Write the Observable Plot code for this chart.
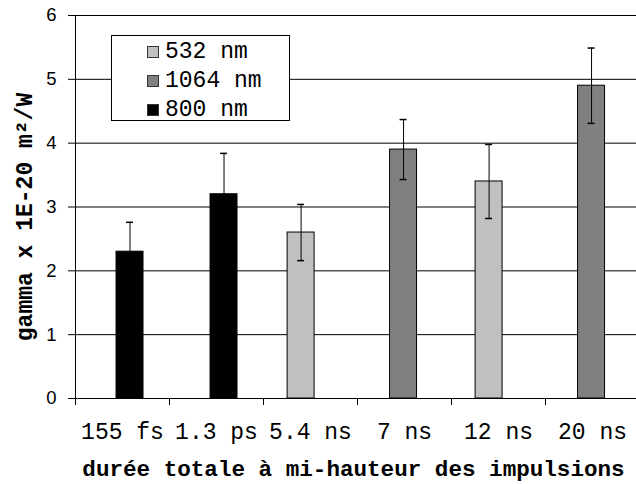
<!DOCTYPE html>
<html>
<head>
<meta charset="utf-8">
<script src="https://cdn.jsdelivr.net/npm/d3@7"></script>
<script src="https://cdn.jsdelivr.net/npm/@observablehq/plot@0.6"></script>
<style>
  html, body { margin: 0; padding: 0; background: #fff; }
  #wrap { position: relative; width: 636px; height: 484px; overflow: hidden; }
  #legend {
    position: absolute; left: 111px; top: 35px; width: 179px; height: 86px;
    box-sizing: border-box; border: 1px solid #000; background: #fff;
    padding-top: 2px;
    font-family: "Liberation Mono", "Courier New", monospace; font-size: 23px; color: #000;
  }
  #legend .row { height: 28.7px; display: flex; align-items: center; }
  #legend .sw { width: 10px; height: 10px; border: 1px solid #333; margin-left: 35px; margin-right: 6px; }
</style>
</head>
<body>
<div id="wrap"></div>
<script>
// ---- data ----
const categories = ["155 fs", "1.3 ps", "5.4 ns", "7 ns", "12 ns", "20 ns"];
const barSeries = ["800 nm", "800 nm", "532 nm", "1064 nm", "532 nm", "1064 nm"];
const values = [2.3, 3.2, 2.6, 3.9, 3.4, 4.9];
const errors = [0.46, 0.64, 0.44, 0.47, 0.58, 0.59];
const seriesNames = ["532 nm", "1064 nm", "800 nm"];
const seriesColors = ["#c0c0c0", "#808080", "#000000"];
const yTicks = [0, 1, 2, 3, 4, 5, 6];
const yTitle = "gamma x 1E-20 m²/W";
const xTitle = "durée totale à mi-hauteur des impulsions";

// ---- layout constants (category units) ----
const slotStep = 0.09, slotShift = -0.01, barW = 0.287, capHalf = 0.037;
const mono = "Liberation Mono, Courier New, monospace";

const rows = categories.map((c, i) => {
  const s = seriesNames.indexOf(barSeries[i]);
  const cx = i + 0.5 + (s - 1) * slotStep + slotShift;
  return {cat: c, series: barSeries[i], value: values[i], err: errors[i], cx};
});

const chart = Plot.plot({
  width: 636,
  height: 484,
  marginLeft: 75,
  marginRight: -3,
  marginTop: 15,
  marginBottom: 86,
  x: {domain: [0, categories.length], axis: null},
  y: {domain: [0, 6], axis: null},
  color: {domain: seriesNames, range: seriesColors},
  marks: [
    Plot.ruleY(yTicks, {stroke: "#000", strokeWidth: 1}),
    Plot.rect(rows, {
      x1: d => d.cx - barW / 2, x2: d => d.cx + barW / 2,
      y1: 0, y2: "value", fill: "series", stroke: "#000", strokeWidth: 1
    }),
    Plot.ruleX(rows, {x: "cx", y1: d => d.value - d.err, y2: d => d.value + d.err, stroke: "#000", strokeWidth: 1}),
    Plot.ruleY(rows, {y: d => d.value + d.err, x1: d => d.cx - capHalf, x2: d => d.cx + capHalf, stroke: "#000", strokeWidth: 1.5}),
    Plot.ruleY(rows, {y: d => d.value - d.err, x1: d => d.cx - capHalf, x2: d => d.cx + capHalf, stroke: "#000", strokeWidth: 1.5}),
    Plot.ruleX([0], {stroke: "#000", strokeWidth: 1}),
    Plot.ruleY([0], {stroke: "#000", strokeWidth: 1}),
    Plot.axisY({ticks: yTicks, tickSize: 7, tickPadding: 12, label: null, tickFormat: d => String(d),
      fontFamily: "Liberation Sans, Arial, sans-serif", fontSize: 18.5, stroke: "#000"}),
    Plot.axisX({ticks: d3.range(categories.length + 1), tickSize: 7, tickFormat: () => "", label: null, stroke: "#000"}),
    Plot.axisX({ticks: categories.map((c, i) => i + 0.5), tickSize: 0, tickPadding: 24, label: null,
      tickFormat: d => categories[Math.floor(d)], fontFamily: mono, fontSize: 23}),
    Plot.text([yTitle], {frameAnchor: "left", textAnchor: "middle", rotate: -90, dx: -51, dy: 10,
      fontFamily: mono, fontWeight: "bold", fontSize: 23, fill: "#000"}),
    Plot.text([xTitle], {frameAnchor: "bottom", dx: -4, dy: 70, lineAnchor: "middle",
      fontFamily: mono, fontWeight: "bold", fontSize: 22.6, fill: "#000"})
  ],
  style: {background: "#fff", color: "#000", overflow: "hidden"}
});

const wrap = document.getElementById("wrap");
wrap.appendChild(chart);

const legend = document.createElement("div");
legend.id = "legend";
seriesNames.forEach((name, i) => {
  const row = document.createElement("div");
  row.className = "row";
  const sw = document.createElement("span");
  sw.className = "sw";
  sw.style.background = seriesColors[i];
  const t = document.createElement("span");
  t.textContent = name;
  row.appendChild(sw);
  row.appendChild(t);
  legend.appendChild(row);
});
wrap.appendChild(legend);
</script>
</body>
</html>
